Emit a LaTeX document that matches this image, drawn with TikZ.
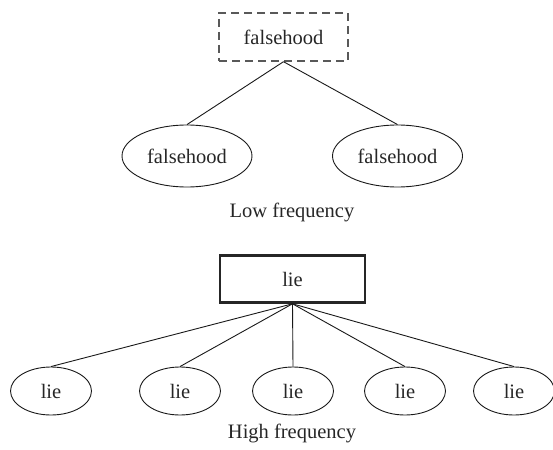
\documentclass[tikz,border=0pt]{standalone}
\usepackage{fontspec}
\setmainfont{Liberation Serif}
\usetikzlibrary{shapes.geometric}
\begin{document}
\begin{tikzpicture}[x=1pt,y=-1pt,
  lbl/.style={font=\fontsize{20.5}{24}\selectfont, text=black!85},
  dashbox/.style={lbl, draw=black!65, line width=1.4pt, dash pattern=on 8pt off 5pt, minimum width=129pt, minimum height=48pt, inner sep=0pt},
  thickbox/.style={lbl, draw=black!85, line width=2.6pt, minimum width=145pt, minimum height=47pt, inner sep=0pt},
  bigell/.style={lbl, ellipse, draw=black!90, line width=0.9pt, minimum width=130pt, minimum height=62pt, inner sep=0pt},
  smallell/.style={lbl, ellipse, draw=black!90, line width=0.9pt, minimum width=81pt, minimum height=48pt, inner sep=0pt},
  edge/.style={draw=black!90, line width=0.9pt}]
\useasboundingbox (0,0) rectangle (553,449);
\node[dashbox] (top) at (283.5,37) {falsehood};
\node[bigell] (fl) at (187,156) {falsehood};
\node[bigell] (fr) at (397.5,156) {falsehood};
\node[lbl] (low) at (292,212) {Low frequency};
\draw[edge] (top.south) -- (fl.north);
\draw[edge] (top.south) -- (fr.north);
\node[thickbox] (lie) at (292.5,279) {lie};
\node[smallell] (l1) at (51,391) {lie};
\node[smallell] (l2) at (180,391) {lie};
\node[smallell] (l3) at (293,391) {lie};
\node[smallell] (l4) at (405,391) {lie};
\node[smallell] (l5) at (514,391) {lie};
\node[lbl] (high) at (292,433) {High frequency};
\foreach \n in {l1,l2,l3,l4,l5} \draw[edge] (lie.south) -- (\n.north);
\end{tikzpicture}
\end{document}
